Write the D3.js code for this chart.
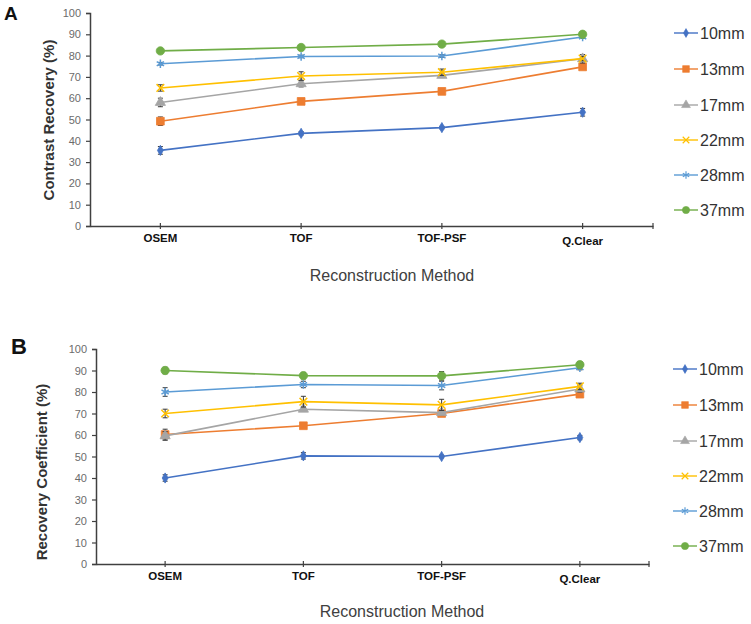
<!DOCTYPE html>
<html>
<head>
<meta charset="utf-8">
<script src="https://cdn.jsdelivr.net/npm/d3@7"></script>
<style>
  html, body { margin: 0; padding: 0; background: #fff; }
  svg { display: block; font-family: "Liberation Sans", Arial, sans-serif; }
</style>
</head>
<body>
<svg id="chart" width="751" height="624"></svg>
<script>
// ---------- DATA ----------
const categories = ["OSEM", "TOF", "TOF-PSF", "Q.Clear"];
const seriesNames = ["10mm", "13mm", "17mm", "22mm", "28mm", "37mm"];
const yTicks = [0, 10, 20, 30, 40, 50, 60, 70, 80, 90, 100];

// Panel A: Contrast Recovery (%)
const crA_10mm = [35.5, 43.5, 46.2, 53.4];
const crA_13mm = [49.2, 58.5, 63.2, 74.7];
const crA_17mm = [58.0, 66.8, 70.7, 78.5];
const crA_22mm = [64.8, 70.4, 72.2, 78.6];
const crA_28mm = [76.2, 79.6, 79.8, 88.7];
const crA_37mm = [82.2, 83.8, 85.4, 90.0];
const errA_10mm = [1.8, 0.8, 0.6, 1.8];
const errA_13mm = [2.0, 0.8, 0.6, 1.0];
const errA_17mm = [2.0, 1.5, 1.0, 2.0];
const errA_22mm = [1.5, 2.0, 1.5, 1.0];
const errA_28mm = [0.6, 0.6, 0.6, 0.6];
const errA_37mm = [0.5, 0.5, 0.5, 0.5];

// Panel B: Recovery Coefficient (%)
const rcB_10mm = [40.0, 50.3, 50.0, 58.8];
const rcB_13mm = [60.2, 64.3, 70.0, 79.0];
const rcB_17mm = [59.6, 72.0, 70.4, 81.4];
const rcB_22mm = [70.0, 75.5, 74.0, 82.6];
const rcB_28mm = [80.0, 83.5, 83.0, 91.3];
const rcB_37mm = [90.0, 87.6, 87.5, 92.7];
const errB_10mm = [1.5, 1.5, 0.6, 1.0];
const errB_13mm = [2.5, 0.6, 0.6, 1.0];
const errB_17mm = [2.0, 1.0, 1.0, 1.5];
const errB_22mm = [2.0, 2.5, 2.6, 1.5];
const errB_28mm = [2.0, 1.5, 2.0, 1.0];
const errB_37mm = [1.5, 1.5, 2.0, 1.5];

// ---------- STYLE ----------
const colors = ["#4472C4", "#ED7D31", "#A5A5A5", "#FFC000", "#5B9BD5", "#70AD47"];
const symbols = [d3.symbolDiamond, d3.symbolSquare, d3.symbolTriangle, d3.symbolTimes, d3.symbolAsterisk, d3.symbolCircle];
const strokeSymbol = [false, false, false, true, true, false];
const markerSize = [30, 60, 45, 40, 50, 55];

const panels = [
  {
    letter: "A", letterX: 4, letterY: 20, letterSize: 19,
    yTitle: "Contrast Recovery (%)", yTitleX: 48, yTitleY: 120,
    left: 90, right: 653, top: 13, bottom: 226,
    xTitleX: 392, xTitleY: 281, legendX: 674, legendY: [33, 69, 105, 140, 175, 210],
    values: [crA_10mm, crA_13mm, crA_17mm, crA_22mm, crA_28mm, crA_37mm],
    errors: [errA_10mm, errA_13mm, errA_17mm, errA_22mm, errA_28mm, errA_37mm]
  },
  {
    letter: "B", letterX: 11, letterY: 354, letterSize: 22,
    yTitle: "Recovery Coefficient (%)", yTitleX: 41, yTitleY: 472,
    left: 96, right: 649, top: 349, bottom: 564,
    xTitleX: 402, xTitleY: 617, legendX: 673, legendY: [369, 405, 441, 476, 511, 546],
    values: [rcB_10mm, rcB_13mm, rcB_17mm, rcB_22mm, rcB_28mm, rcB_37mm],
    errors: [errB_10mm, errB_13mm, errB_17mm, errB_22mm, errB_28mm, errB_37mm]
  }
];

const svg = d3.select("#chart");

panels.forEach(p => {
  const g = svg.append("g");
  const x = d3.scaleBand().domain(categories).range([p.left, p.right]).padding(0);
  const y = d3.scaleLinear().domain([0, 100]).range([p.bottom, p.top]);
  const cx = c => x(c) + x.bandwidth() / 2;

  // panel letter
  g.append("text").attr("x", p.letterX).attr("y", p.letterY)
    .attr("font-size", p.letterSize).attr("font-weight", "bold").attr("fill", "#111")
    .text(p.letter);

  // y axis
  const yAxis = d3.axisLeft(y).tickValues(yTicks).tickSize(4).tickPadding(5).tickFormat(d3.format("d"));
  const ya = g.append("g").attr("transform", `translate(${p.left},0)`).call(yAxis);
  ya.select(".domain").attr("stroke", "#404040").attr("stroke-width", 1.5);
  ya.selectAll(".tick line").attr("stroke", "#404040").attr("stroke-width", 1.2);
  ya.selectAll(".tick text").attr("fill", "#6b6b6b").attr("font-size", 11)
    .attr("font-family", "'Liberation Sans', Arial, sans-serif");

  // x axis
  const xAxis = d3.axisBottom(x).tickSize(0).tickPadding(8);
  const xa = g.append("g").attr("transform", `translate(0,${p.bottom})`).call(xAxis);
  xa.select(".domain").attr("stroke", "#404040").attr("stroke-width", 1.5);
  xa.selectAll(".tick text").attr("fill", "#111").attr("font-size", 11.5).attr("font-weight", "bold")
    .attr("font-family", "'Liberation Sans', Arial, sans-serif")
    .attr("dy", d => d === "Q.Clear" ? "0.95em" : "0.71em");
  // small tick marks at category centers and at right end
  g.append("g").selectAll("line").data(categories.map(cx).concat([p.right]))
    .join("line")
    .attr("x1", d => d).attr("x2", d => d)
    .attr("y1", p.bottom - 3).attr("y2", p.bottom + 3)
    .attr("stroke", "#404040").attr("stroke-width", 1.2);

  // titles
  g.append("text")
    .attr("transform", `translate(${p.yTitleX},${p.yTitleY}) rotate(-90)`)
    .attr("text-anchor", "middle").attr("dominant-baseline", "central")
    .attr("font-size", 15).attr("font-weight", "bold").attr("fill", "#333")
    .text(p.yTitle);
  g.append("text")
    .attr("x", p.xTitleX).attr("y", p.xTitleY)
    .attr("text-anchor", "middle").attr("font-size", 16).attr("fill", "#404040")
    .text("Reconstruction Method");

  const line = d3.line().x((d, i) => cx(categories[i])).y(d => y(d));

  seriesNames.forEach((name, s) => {
    const vals = p.values[s], errs = p.errors[s];
    const sg = g.append("g");
    sg.append("path").datum(vals).attr("d", line)
      .attr("fill", "none").attr("stroke", colors[s]).attr("stroke-width", 1.6);

    // error bars
    vals.forEach((v, i) => {
      const xx = cx(categories[i]);
      const y1 = y(v + errs[i]), y2 = y(v - errs[i]);
      sg.append("line").attr("x1", xx).attr("x2", xx).attr("y1", y1).attr("y2", y2)
        .attr("stroke", "#3a3a3a").attr("stroke-width", 1);
      [y1, y2].forEach(yy => sg.append("line")
        .attr("x1", xx - 2.5).attr("x2", xx + 2.5).attr("y1", yy).attr("y2", yy)
        .attr("stroke", "#3a3a3a").attr("stroke-width", 1));
    });

    // markers
    const sym = d3.symbol().type(symbols[s]).size(markerSize[s]);
    sg.selectAll("path.m").data(vals).join("path").attr("class", "m")
      .attr("transform", (d, i) => `translate(${cx(categories[i])},${y(d)})`)
      .attr("d", sym)
      .attr("fill", strokeSymbol[s] ? "none" : colors[s])
      .attr("stroke", colors[s]).attr("stroke-width", strokeSymbol[s] ? 1.5 : 0.8);

    // legend
    const ly = p.legendY[s];
    const lg = g.append("g");
    lg.append("line").attr("x1", p.legendX).attr("x2", p.legendX + 24)
      .attr("y1", ly).attr("y2", ly).attr("stroke", colors[s]).attr("stroke-width", 1.4);
    lg.append("path").attr("transform", `translate(${p.legendX + 12},${ly})`)
      .attr("d", d3.symbol().type(symbols[s]).size(markerSize[s] * 0.75))
      .attr("fill", strokeSymbol[s] ? "none" : colors[s])
      .attr("stroke", colors[s]).attr("stroke-width", strokeSymbol[s] ? 1.2 : 0.6);
    lg.append("text").attr("x", p.legendX + 26).attr("y", ly)
      .attr("dominant-baseline", "central")
      .attr("font-size", 16).attr("fill", "#333")
      .text(name);
  });
});
</script>
</body>
</html>
